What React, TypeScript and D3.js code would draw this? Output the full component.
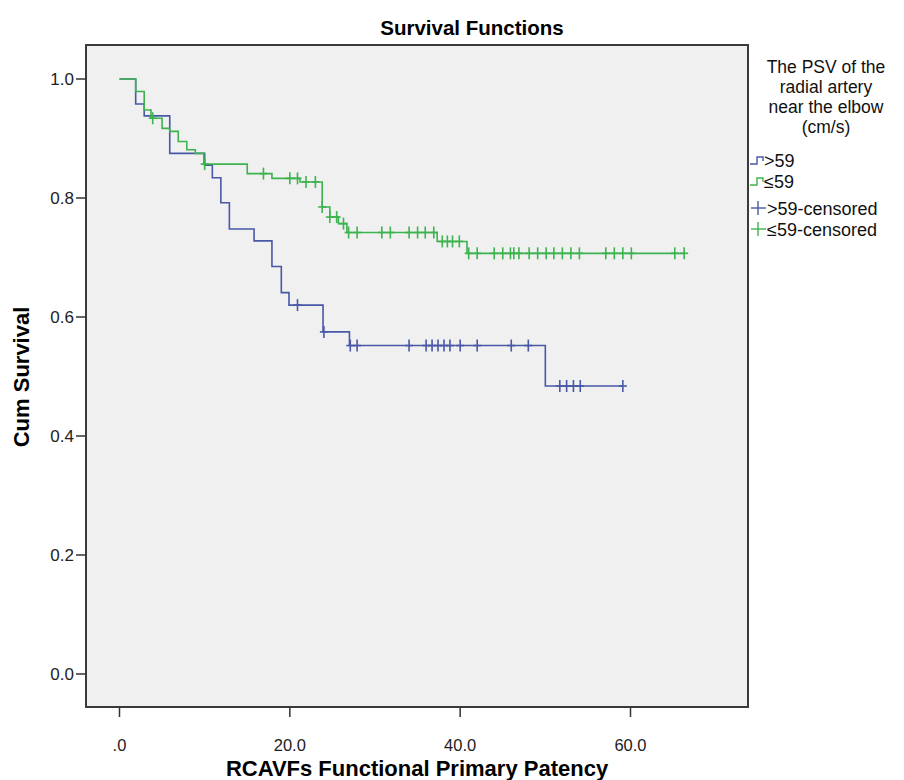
import React from "react";
import * as d3 from "d3";

// ---- data ----
const xTicks = [0, 20, 40, 60];
const xTickLabels = [".0", "20.0", "40.0", "60.0"];
const yTicks = [0, 0.2, 0.4, 0.6, 0.8, 1.0];
const yTickLabels = ["0.0", "0.2", "0.4", "0.6", "0.8", "1.0"];

// group ">59"
const blueTimes = [0, 1.9, 2.9, 5.9, 10.0, 10.9, 11.9, 12.9, 15.8, 17.9, 19.0, 19.9, 23.9, 27.0, 50.0];
const blueSurv = [1.0, 0.958, 0.938, 0.875, 0.855, 0.834, 0.792, 0.748, 0.728, 0.685, 0.641, 0.62, 0.575, 0.552, 0.484];
const blueEnd = 59.1;
const blueCensored = [20.9, 24.0, 27.1, 27.9, 34.0, 36.0, 36.7, 37.4, 38.1, 38.8, 40.0, 42.0, 46.0, 48.0, 51.7, 52.5, 53.3, 54.1, 59.1];

// group "≤59"
const greenTimes = [0, 1.9, 2.9, 3.7, 5.0, 5.9, 6.9, 7.9, 8.9, 9.9, 15.0, 17.9, 21.2, 23.8, 24.7, 25.7, 26.7, 37.3, 40.8];
const greenSurv = [1.0, 0.979, 0.948, 0.934, 0.917, 0.912, 0.895, 0.881, 0.875, 0.857, 0.841, 0.833, 0.827, 0.785, 0.768, 0.757, 0.742, 0.727, 0.707];
const greenEnd = 66.3;
const greenCensored = [3.9, 10.0, 16.9, 20.0, 20.9, 21.9, 23.0, 23.8, 24.7, 25.5, 26.3, 26.9, 27.9, 30.8, 31.8, 34.0, 35.0, 35.9, 36.9, 37.9, 38.5, 39.1, 39.9, 41.0, 42.0, 44.0, 45.0, 45.9, 46.3, 46.9, 48.1, 49.1, 50.1, 51.0, 52.0, 53.0, 54.0, 57.1, 58.1, 59.1, 60.1, 65.2, 66.3];

const legendTitle = ["The PSV of the", "radial artery", "near the elbow", "(cm/s)"];
const legendLabels = [">59", "≤59", ">59-censored", "≤59-censored"];

// ---- style / layout ----
const W = 896;
const H = 772;
const BLUE = "#4858a6";
const GREEN = "#3cb34e";
const FONT = "Arial, 'Liberation Sans', sans-serif";
const frame = { left: 78, top: 37, right: 740, bottom: 699 };

const x = d3.scaleLinear().domain([0, 60]).range([111.5, 622.5]);
const y = d3.scaleLinear().domain([0, 1]).range([666, 71]);

type Pt = [number, number];

function stepPoints(times: number[], surv: number[], end: number): Pt[] {
  const pts: Pt[] = times.map((t, i) => [t, surv[i]] as Pt);
  pts.push([end, surv[surv.length - 1]]);
  return pts;
}
function survAt(times: number[], surv: number[], t: number) {
  let v = surv[0];
  for (let i = 0; i < times.length; i++) if (times[i] <= t) v = surv[i];
  return v;
}

const line = d3
  .line<Pt>()
  .x((d) => x(d[0]))
  .y((d) => y(d[1]))
  .curve(d3.curveStepAfter);

function Curve({ times, surv, end, cens, color }: any) {
  const pts = stepPoints(times, surv, end);
  return (
    <g>
      <path d={line(pts) || ""} fill="none" stroke={color} strokeWidth={1.6} />
      {cens.map((t: number, i: number) => {
        const cx = x(t);
        const cy = y(survAt(times, surv, t));
        return (
          <g key={i} stroke={color} strokeWidth={1.6}>
            <line x1={cx} x2={cx} y1={cy - 6} y2={cy + 6} />
            <line x1={cx - 4} x2={cx + 4} y1={cy} y2={cy} />
          </g>
        );
      })}
    </g>
  );
}

export default function App() {
  const legX = 741;
  const legItemY = [152, 173, 200, 221];
  return (
    <svg width={W} height={H} style={{ display: "block", background: "#fff" }} fontFamily={FONT}>
      <text x={464} y={27} textAnchor="middle" fontSize={20.5} fontWeight="bold" fill="#000">
        Survival Functions
      </text>
      <rect
        x={frame.left}
        y={frame.top}
        width={frame.right - frame.left}
        height={frame.bottom - frame.top}
        fill="#f0f0f0"
        stroke="#3a3a3a"
        strokeWidth={2}
      />
      {/* y axis ticks */}
      {yTicks.map((v, i) => (
        <g key={i}>
          <line x1={frame.left - 10} x2={frame.left} y1={y(v)} y2={y(v)} stroke="#333" strokeWidth={1.5} />
          <text x={frame.left - 12} y={y(v) + 6} textAnchor="end" fontSize={17} fill="#222">
            {yTickLabels[i]}
          </text>
        </g>
      ))}
      {/* x axis ticks */}
      {xTicks.map((v, i) => (
        <g key={i}>
          <line x1={x(v)} x2={x(v)} y1={frame.bottom} y2={frame.bottom + 10} stroke="#333" strokeWidth={1.5} />
          <text x={x(v)} y={frame.bottom + 44} textAnchor="middle" fontSize={16.5} fill="#222">
            {xTickLabels[i]}
          </text>
        </g>
      ))}
      <text x={409} y={768} textAnchor="middle" fontSize={22} fontWeight="bold" fill="#000">
        RCAVFs Functional Primary Patency
      </text>
      <text
        transform={`translate(21, ${369}) rotate(-90)`}
        textAnchor="middle"
        fontSize={22}
        fontWeight="bold"
        fill="#000"
      >
        Cum Survival
      </text>

      <Curve times={blueTimes} surv={blueSurv} end={blueEnd} cens={blueCensored} color={BLUE} />
      <Curve times={greenTimes} surv={greenSurv} end={greenEnd} cens={greenCensored} color={GREEN} />

      {/* legend */}
      {legendTitle.map((s, i) => (
        <text key={i} x={818} y={65 + i * 20} textAnchor="middle" fontSize={17.5} fill="#111">
          {s}
        </text>
      ))}
      {legendLabels.map((s, i) => {
        const cy = legItemY[i];
        const color = i % 2 === 0 ? BLUE : GREEN;
        const isCens = i >= 2;
        return (
          <g key={i}>
            {isCens ? (
              <g stroke={color} strokeWidth={1.4}>
                <line x1={legX + 2} x2={legX + 17} y1={cy} y2={cy} />
                <line x1={legX + 9} x2={legX + 9} y1={cy - 7} y2={cy + 7} />
              </g>
            ) : (
              <path
                d={`M${legX + 1},${cy + 4}H${legX + 8}V${cy - 3}H${legX + 14}V${cy + 1}`}
                fill="none"
                stroke={color}
                strokeWidth={1.4}
              />
            )}
            <text x={legX + (isCens ? 18 : 15)} y={cy + 7} fontSize={18} fill="#111">
              {s}
            </text>
          </g>
        );
      })}
    </svg>
  );
}
